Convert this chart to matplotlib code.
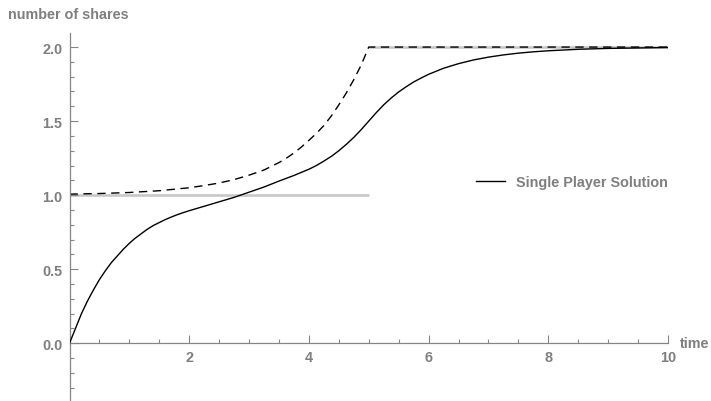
import numpy as np
import matplotlib.pyplot as plt

# Single player solution (shares held over time)
t_solution = [0.0, 0.1, 0.2, 0.3, 0.4, 0.5, 0.6, 0.7, 0.8, 0.9, 1.0,
              1.1, 1.2, 1.3, 1.4, 1.5, 1.6, 1.7, 1.8, 1.9, 2.0,
              2.25, 2.5, 2.75, 3.0, 3.25, 3.5, 3.75,
              4.0, 4.125, 4.25, 4.375, 4.5, 4.625, 4.75, 4.875,
              5.0, 5.125, 5.25, 5.375, 5.5, 5.625, 5.75, 5.875,
              6.0, 6.25, 6.5, 6.75, 7.0, 7.25, 7.5, 7.75, 8.0, 8.5, 9.0, 9.5, 10.0]
x_solution = [0.0, 0.10, 0.20, 0.285, 0.36, 0.43, 0.49, 0.545, 0.59, 0.635, 0.675,
              0.71, 0.74, 0.77, 0.795, 0.815, 0.835, 0.852, 0.868, 0.882, 0.895,
              0.925, 0.955, 0.985, 1.02, 1.055, 1.095, 1.133,
              1.175, 1.20, 1.23, 1.262, 1.30, 1.343, 1.39, 1.443,
              1.50, 1.557, 1.61, 1.656, 1.697, 1.732, 1.764, 1.791,
              1.816, 1.857, 1.888, 1.913, 1.932, 1.947, 1.959, 1.968, 1.975, 1.985, 1.991, 1.994, 1.997]

# Upper bound (dashed)
t_bound = [0.0, 0.5, 1.0, 1.5, 2.0, 2.25, 2.5, 2.75, 3.0, 3.25, 3.5, 3.625, 3.75, 3.875,
           4.0, 4.125, 4.25, 4.375, 4.5, 4.625, 4.75, 4.875, 5.0, 10.0]
x_bound = [1.007, 1.011, 1.018, 1.03, 1.05, 1.065, 1.082, 1.105, 1.135, 1.17, 1.22, 1.25, 1.285, 1.325,
           1.37, 1.417, 1.47, 1.535, 1.61, 1.69, 1.78, 1.88, 2.0, 2.0]

# Target holdings (gray steps)
target_segments = [([0.0, 5.0], [1.0, 1.0]), ([5.0, 10.0], [2.0, 2.0])]

x_major = [2, 4, 6, 8, 10]
y_major = [0.0, 0.5, 1.0, 1.5, 2.0]

axis_gray = '#858585'
label_gray = '#7f7f7f'
font = ['Liberation Sans', 'DejaVu Sans']
fsize = 10.4

fig = plt.figure(figsize=(7.11, 4.02), dpi=100)
ax = fig.add_axes([69.5 / 711, 0.0, (668 - 69.5) / 711, (402 - 34) / 402])

for seg_t, seg_x in target_segments:
    ax.plot(seg_t, seg_x, color='#c8c8c8', lw=1.9, solid_capstyle='butt', zorder=1)
ax.plot(t_bound, x_bound, color='black', lw=1.0, dashes=(6, 4), zorder=2)
ax.plot(t_solution, x_solution, color='black', lw=1.0, zorder=3,
        label='Single Player Solution')

ax.set_xlim(0, 10)
ax.set_ylim(-0.39, 2.095)

for side in ['top', 'right']:
    ax.spines[side].set_visible(False)
ax.spines['left'].set_position(('data', 0))
ax.spines['bottom'].set_position(('data', 0))
for side in ['left', 'bottom']:
    ax.spines[side].set_color(axis_gray)
    ax.spines[side].set_linewidth(0.9)

ax.set_xticks(x_major)
ax.set_xticklabels([str(v) for v in x_major])
ax.set_xticks(np.arange(0.5, 10.0, 0.5), minor=True)
ax.set_yticks(y_major)
ax.set_yticklabels([f'{v:.1f}' for v in y_major])
ax.set_yticks([v / 10 for v in range(-3, 21) if v % 5 != 0], minor=True)

ax.tick_params(which='both', direction='in', color=axis_gray, width=0.8)
ax.tick_params(which='major', length=5.5)
ax.tick_params(which='minor', length=3.2)
ax.tick_params(axis='x', which='major', pad=5)
ax.tick_params(axis='y', which='major', pad=5)
for lbl in ax.get_xticklabels() + ax.get_yticklabels():
    lbl.set_fontfamily(font)
    lbl.set_fontweight('bold')
    lbl.set_fontsize(fsize)
    lbl.set_color(label_gray)

fig.text(680 / 711, 1 - 344 / 402, 'time', ha='left', va='center', fontsize=fsize,
         fontweight='bold', color=label_gray, family=font)
fig.text(8 / 711, 1 - 15 / 402, 'number of shares', ha='left', va='center', fontsize=fsize,
         fontweight='bold', color=label_gray, family=font)

leg = ax.legend(loc='center left', bbox_to_anchor=(476 / 711, 1 - 183 / 402),
                bbox_transform=fig.transFigure, frameon=False, borderpad=0,
                borderaxespad=0, handlelength=2.0, handletextpad=0.75,
                prop={'family': font, 'weight': 'bold', 'size': fsize})
for txt in leg.get_texts():
    txt.set_color(label_gray)

fig.savefig('out.png', dpi=100)
